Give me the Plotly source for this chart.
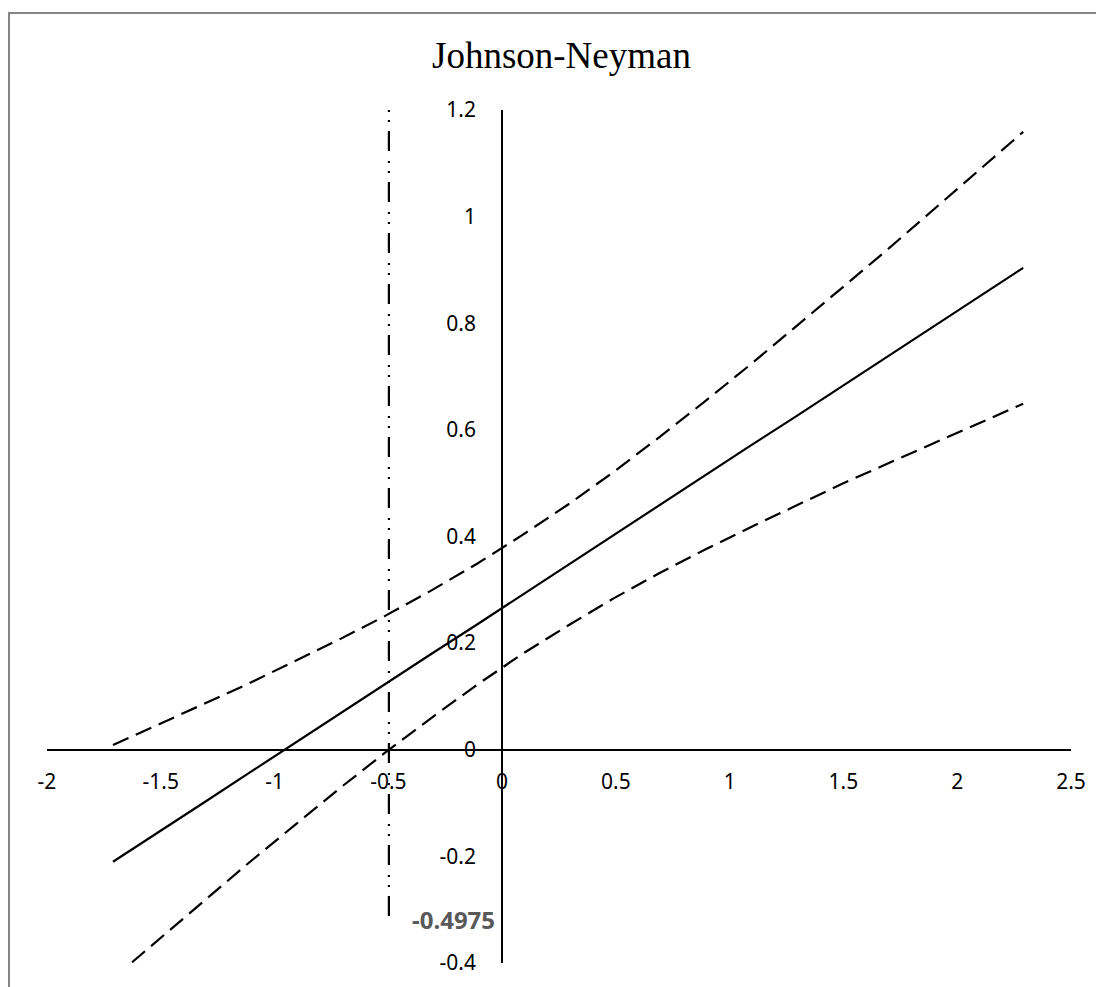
import plotly.graph_objects as go

# ---- data ----
x_vals = [-1.71, -1.51, -1.31, -1.11, -0.91, -0.71, -0.51, -0.31, -0.11, 0.09,
          0.29, 0.49, 0.69, 0.89, 1.09, 1.29, 1.49, 1.69, 1.89, 2.09, 2.29]
effect = [-0.210, -0.155, -0.099, -0.043, 0.013, 0.068, 0.124, 0.180, 0.235, 0.291,
          0.347, 0.403, 0.458, 0.514, 0.570, 0.625, 0.681, 0.737, 0.792, 0.848, 0.904]
upper_ci = [0.009, 0.047, 0.086, 0.125, 0.166, 0.208, 0.252, 0.299, 0.349, 0.403,
            0.460, 0.521, 0.586, 0.653, 0.722, 0.793, 0.865, 0.937, 1.011, 1.084, 1.159]
lower_ci = [-0.429, -0.356, -0.283, -0.211, -0.141, -0.071, -0.004, 0.060, 0.122, 0.180,
            0.233, 0.284, 0.331, 0.375, 0.417, 0.458, 0.498, 0.536, 0.574, 0.612, 0.649]
jn_x = [-0.4975, -0.4975]
jn_y = [1.2, -0.32]
jn_label = "-0.4975"
x_ticks = [-2, -1.5, -1, -0.5, 0, 0.5, 1, 1.5, 2, 2.5]
y_ticks = [-0.4, -0.2, 0, 0.2, 0.4, 0.6, 0.8, 1, 1.2]
title_text = "Johnson-Neyman"

# page body adds an 8px offset; figure sized to fit the remaining window
W, H = 1096, 979
L, R, T, B = 39, 33, 102, 24
pw, ph = W - L - R, H - T - B

fig = go.Figure()
fig.add_trace(go.Scatter(x=x_vals, y=upper_ci, mode="lines",
                         line=dict(color="black", width=2.2, dash="17px,8px")))
fig.add_trace(go.Scatter(x=x_vals, y=lower_ci, mode="lines",
                         line=dict(color="black", width=2.2, dash="17px,8px")))
fig.add_trace(go.Scatter(x=x_vals, y=effect, mode="lines",
                         line=dict(color="black", width=2.2)))
fig.add_trace(go.Scatter(x=jn_x, y=jn_y, mode="lines",
                         line=dict(color="black", width=2.2,
                                   dash="2px,8px,2px,9px,20px,10px")))

tickfont = dict(family="Noto Sans", size=21, color="black")
fig.update_layout(
    width=W, height=H,
    margin=dict(l=L, r=R, t=T, b=B),
    paper_bgcolor="white", plot_bgcolor="white",
    showlegend=False, hovermode=False,
    xaxis=dict(range=[-2, 2.5], tickvals=x_ticks, ticktext=[f"{v:g}" for v in x_ticks],
               showgrid=False, zeroline=False, showline=True, linecolor="black",
               linewidth=2, ticks="", anchor="free", position=0.4 / 1.6, side="bottom",
               tickfont=tickfont, ticklabelstandoff=13),
    yaxis=dict(range=[-0.4, 1.2], tickvals=y_ticks, ticktext=[f"{v:g}" for v in y_ticks],
               showgrid=False, zeroline=False, showline=True, linecolor="black",
               linewidth=2, ticks="", anchor="free", position=2 / 4.5, side="left",
               tickfont=tickfont, ticklabelstandoff=21),
    annotations=[
        dict(text=title_text, xref="paper", yref="paper",
             x=(553 - L) / pw, y=(H - B - 48) / ph, xanchor="center", yanchor="middle",
             showarrow=False, font=dict(family="Liberation Serif", size=37, color="black")),
        dict(text=f"<b>{jn_label}</b>", xref="x", yref="y", x=-0.215, y=-0.319,
             xanchor="center", yanchor="middle", showarrow=False,
             font=dict(family="Noto Sans", size=24, color="#595959")),
    ],
    shapes=[
        dict(type="rect", xref="paper", yref="paper",
             x0=(1 - L) / pw, x1=(1120 - L) / pw,
             y0=(H - B - 1010) / ph, y1=(H - B - 5) / ph,
             line=dict(color="#868686", width=2), fillcolor="rgba(0,0,0,0)", layer="below"),
    ],
)

fig.write_html("out.html")
